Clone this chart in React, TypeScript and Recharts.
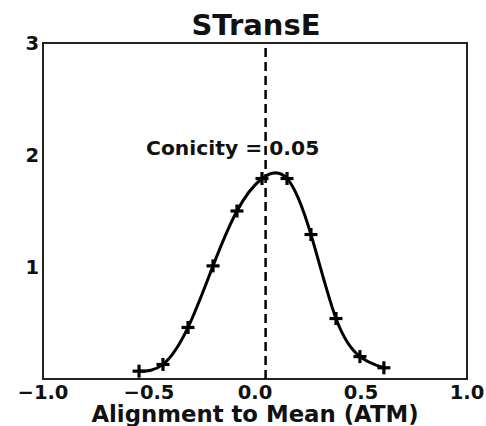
import React from "react";
import { LineChart, Line, XAxis, YAxis, ReferenceLine, ReferenceArea } from "recharts";

const xValues = [-0.547, -0.434, -0.316, -0.198, -0.085, 0.033, 0.151, 0.264, 0.382, 0.495, 0.608];
const densities = [0.07, 0.13, 0.46, 1.01, 1.5, 1.79, 1.79, 1.29, 0.54, 0.2, 0.1];
const xTicks = [-1, -0.5, 0, 0.5, 1];
const yTicks = [1, 2, 3];
const conicity = 0.05;
const title = "STransE";
const xLabel = "Alignment to Mean (ATM)";

const data = xValues.map((x, i) => ({ x, y: densities[i] }));

const FONT = "'DejaVu Sans', sans-serif";

const fmtX = (v: number) => {
  const s = Math.abs(v).toFixed(1);
  return v < 0 ? "\u2212" + s : s;
};

const PlusDot = (props: any) => {
  const { cx, cy } = props;
  if (cx == null || cy == null) return null;
  const r = 6.5;
  return (
    <g>
      <line x1={cx - r} y1={cy} x2={cx + r} y2={cy} stroke="#000" strokeWidth={3.2} />
      <line x1={cx} y1={cy - r} x2={cx} y2={cy + r} stroke="#000" strokeWidth={3.2} />
    </g>
  );
};

export default function App() {
  return (
    <div style={{ position: "absolute", left: 0, top: 0, width: 486, height: 426, background: "#fff" }}>
      <LineChart
        width={486}
        height={426}
        data={data}
        margin={{ top: 43, right: 19, bottom: 0, left: 0 }}
      >
        <XAxis
          dataKey="x"
          type="number"
          domain={[-1, 1]}
          ticks={xTicks}
          tickFormatter={fmtX}
          axisLine={false}
          tickLine={false}
          tickSize={0}
          tickMargin={6}
          height={47}
          interval={0}
          tick={{ fill: "#111", fontSize: 19.5, fontWeight: "bold", fontFamily: FONT }}
        />
        <YAxis
          type="number"
          domain={[0, 3]}
          ticks={yTicks}
          axisLine={false}
          tickLine={false}
          tickSize={0}
          tickMargin={4}
          width={43}
          interval={0}
          tick={{ fill: "#111", fontSize: 19.5, fontWeight: "bold", fontFamily: FONT }}
        />
        <ReferenceArea x1={-1} x2={1} y1={0} y2={3} fill="none" stroke="#222" strokeWidth={2} />
        <ReferenceLine x={conicity} stroke="#000" strokeWidth={2.5} strokeDasharray="9 5" />
        <Line
          type="natural"
          dataKey="y"
          stroke="#000"
          strokeWidth={3}
          dot={<PlusDot />}
          activeDot={false}
          isAnimationActive={false}
        />
      </LineChart>
      <svg
        width={486}
        height={426}
        style={{ position: "absolute", left: 0, top: 0, pointerEvents: "none" }}
      >
        <text x={256} y={35} textAnchor="middle" fontFamily={FONT} fontWeight="bold" fontSize={29} fill="#111">
          {title}
        </text>
        <text x={146} y={155} textAnchor="start" fontFamily={FONT} fontWeight="bold" fontSize={20.3} fill="#111">
          {`Conicity = ${conicity.toFixed(2)}`}
        </text>
        <text x={255} y={422} textAnchor="middle" fontFamily={FONT} fontWeight="bold" fontSize={22.8} fill="#111">
          {xLabel}
        </text>
      </svg>
    </div>
  );
}
